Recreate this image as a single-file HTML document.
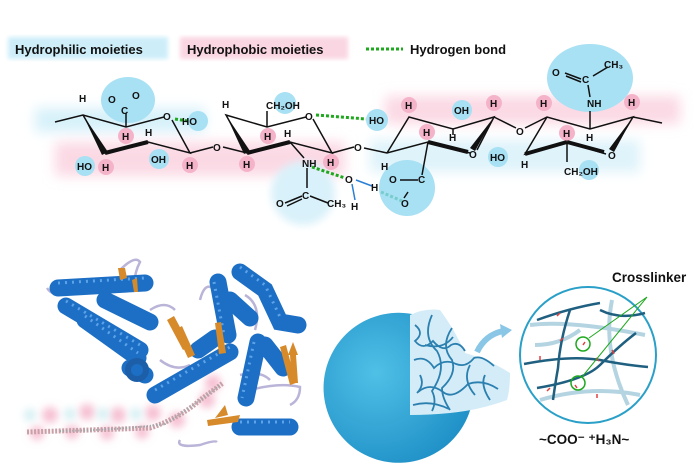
<!DOCTYPE html>
<html><head><meta charset="utf-8"><style>
html,body{margin:0;padding:0;background:#fff}
svg{display:block}
text{font-family:"Liberation Sans",sans-serif;font-weight:bold;fill:#111}
</style></head><body>
<svg width="699" height="474" viewBox="0 0 699 474" xmlns="http://www.w3.org/2000/svg">
<defs>
<filter id="b" x="-20%" y="-80%" width="140%" height="260%"><feGaussianBlur stdDeviation="6"/></filter>
<filter id="b2"><feGaussianBlur stdDeviation="2"/></filter>
<filter id="b3" x="-50%" y="-50%" width="200%" height="200%"><feGaussianBlur stdDeviation="4"/></filter>
<radialGradient id="sph" cx="35%" cy="40%" r="75%"><stop offset="0" stop-color="#4fc0e6"/><stop offset="1" stop-color="#1b8cc4"/></radialGradient>
</defs>
<!-- legend -->
<rect x="8" y="37" width="160" height="22" fill="#cdeef9" filter="url(#b2)"/>
<rect x="180" y="37" width="168" height="22" fill="#fad6e2" filter="url(#b2)"/>
<text x="15" y="54" font-size="13">Hydrophilic moieties</text>
<text x="187" y="54" font-size="13">Hydrophobic moieties</text>
<line x1="366" y1="49" x2="403" y2="49" stroke="#1ea81e" stroke-width="3" stroke-dasharray="3,2"/>
<text x="410" y="54" font-size="13">Hydrogen bond</text>
<!-- bands -->
<rect x="35" y="108" width="170" height="24" fill="#d7f1fa" filter="url(#b)"/>
<rect x="55" y="142" width="290" height="34" fill="#fbd9e4" filter="url(#b)"/>
<rect x="385" y="96" width="295" height="28" fill="#fbd9e4" filter="url(#b)"/>
<rect x="370" y="140" width="270" height="32" fill="#def3fa" filter="url(#b)"/>
<!-- blobs -->
<circle cx="303" cy="193" r="32" fill="#d9f1fa" filter="url(#b3)"/>
<g fill="#a8e0f4">
<ellipse cx="128" cy="100" rx="27" ry="23"/><circle cx="198" cy="121" r="10"/><circle cx="85" cy="166" r="10"/><circle cx="159" cy="159" r="10"/>
<circle cx="285" cy="103" r="11"/><circle cx="377" cy="120" r="11"/><circle cx="462" cy="110" r="10"/><circle cx="498" cy="157" r="10"/><circle cx="589" cy="170" r="10"/>
<circle cx="407" cy="188" r="28"/><ellipse cx="590" cy="78" rx="43" ry="34"/>
</g>
<g fill="#f5b3c9">
<circle cx="126" cy="136" r="8"/><circle cx="106" cy="167" r="8"/><circle cx="190" cy="165" r="8"/><circle cx="268" cy="136" r="8"/>
<circle cx="247" cy="164" r="8"/><circle cx="331" cy="162" r="8"/><circle cx="409" cy="105" r="8"/><circle cx="494" cy="103" r="8"/>
<circle cx="427" cy="132" r="8"/><circle cx="544" cy="103" r="8"/><circle cx="632" cy="102" r="8"/><circle cx="567" cy="133" r="8"/>
</g>
<!-- chain -->
<g stroke="#111" stroke-width="1.5" fill="none">
<path d="M55,122 L83,115 L126,127 L164,117 M172,120 L190,153 L148,142 L105,153 L83,115"/>
<path d="M190,153 L213,147 M223,147 L247,153 L290,142 L332,153 L313,119 M306,117 L267,127 L226,115 L247,153"/>
<path d="M332,153 L354,147 M364,148 L387,153 L428,142 L470,153 M477,150 L494,117 L453,129 L409,117 L387,153"/>
<path d="M494,117 L516,128 M525,128 L547,117 L590,129 L633,117 L613,150 M606,154 L567,142 L525,154 L547,117 M633,117 L662,123"/>
<path d="M126,127 L126,113 M267,127 L267,111 M590,129 L590,111 M590,97 L588,85 M428,142 L422,175 M290,142 L304,158 M307,168 L307,188 M567,142 L567,162 M453,129 L453,135"/>
<path d="M302,196 L285,203 M302,199 L287,206 M310,196 L328,203 M581,79 L565,73 M581,82 L566,76 M593,76 L608,67"/>
<path d="M400,180 L418,180 M408,192 L404,198" />
</g>
<g stroke="#111" stroke-width="4" fill="none"><path d="M105,153 L148,142 M247,153 L290,142 M428,142 L468,152 M567,142 L604,152 M525,154 L567,142"/></g>
<g fill="#111"><path d="M83,115 L108,152 L102,155 Z"/><path d="M226,115 L250,151 L244,154 Z"/><path d="M494,117 L475,151 L470,148 Z"/><path d="M633,117 L614,152 L609,149 Z"/></g>
<g stroke="#1ea81e" stroke-width="3" stroke-dasharray="3,2"><path d="M175,119 L188,121 M316,115 L366,119 M312,167 L345,178"/></g>
<path d="M381,192 L402,201" stroke="#7cc" stroke-width="3" stroke-dasharray="3,2"/>
<g stroke="#2a7fd6" stroke-width="1.5"><path d="M356,180 L372,186 M352,184 L355,200"/></g>
<g font-size="10">
<text x="79" y="102">H</text><text x="108" y="103">O</text><text x="132" y="99">O</text><text x="121" y="114">C</text>
<text x="163" y="120">O</text><text x="182" y="125">HO</text><text x="122" y="140">H</text><text x="145" y="136">H</text>
<text x="77" y="170">HO</text><text x="102" y="171">H</text><text x="151" y="163">OH</text><text x="186" y="169">H</text>
<text x="213" y="151">O</text><text x="222" y="108">H</text><text x="266" y="109">CH₂OH</text><text x="305" y="120">O</text>
<text x="264" y="140">H</text><text x="284" y="137">H</text><text x="243" y="168">H</text><text x="327" y="166">H</text>
<text x="302" y="167">NH</text><text x="302" y="199">C</text><text x="276" y="207">O</text><text x="327" y="207">CH₃</text>
<text x="354" y="151">O</text><text x="369" y="124">HO</text><text x="405" y="109">H</text>
<text x="454" y="114">OH</text><text x="490" y="107">H</text><text x="449" y="141">H</text><text x="423" y="136">H</text>
<text x="469" y="158">O</text><text x="381" y="170">H</text><text x="516" y="135">O</text><text x="540" y="107">H</text>
<text x="587" y="107">NH</text><text x="628" y="106">H</text><text x="563" y="137">H</text><text x="586" y="141">H</text>
<text x="608" y="159">O</text><text x="490" y="161">HO</text><text x="521" y="168">H</text><text x="564" y="175">CH₂OH</text>
<text x="552" y="76">O</text><text x="582" y="83">C</text><text x="604" y="68">CH₃</text>
<text x="389" y="183">O</text><text x="418" y="183">C</text><text x="401" y="207">O</text>
<text x="345" y="183" fill="#2a7fd6">O</text><text x="371" y="191" fill="#2a7fd6">H</text><text x="351" y="210" fill="#2a7fd6">H</text>
</g>
<!-- protein ligand -->
<g fill="#f6bfd2" filter="url(#b3)">
<circle cx="50" cy="415" r="8"/><circle cx="87" cy="412" r="8"/><circle cx="118" cy="415" r="8"/><circle cx="153" cy="413" r="8"/><circle cx="177" cy="420" r="8"/><circle cx="207" cy="400" r="8"/><circle cx="213" cy="383" r="8"/>
<circle cx="37" cy="433" r="7"/><circle cx="72" cy="432" r="7"/><circle cx="107" cy="433" r="7"/><circle cx="142" cy="432" r="7"/>
</g>
<g fill="#d3eef2" filter="url(#b3)"><circle cx="30" cy="415" r="6"/><circle cx="70" cy="414" r="6"/><circle cx="103" cy="414" r="6"/><circle cx="136" cy="414" r="6"/></g>
<path d="M27,432 Q90,430 150,428 Q180,418 200,400 L223,383" stroke="#c9a0a8" stroke-width="5" fill="none" stroke-dasharray="2,1.5"/>
<path d="M60,431 Q120,430 165,424 Q195,405 220,385" stroke="#9aa" stroke-width="2" fill="none" stroke-dasharray="1,2"/>
<!-- loops -->
<g stroke="#b9b4d8" stroke-width="2.5" fill="none">
<path d="M47,288 Q52,296 60,292 M120,270 Q135,255 140,262 Q133,275 135,290 M150,310 Q165,300 175,310 M180,440 Q175,448 200,445 Q215,440 217,442 M200,300 Q205,280 215,290 Q230,315 230,345 M245,295 Q262,305 255,330 M250,390 Q280,382 300,387 Q300,400 290,405 M240,375 Q260,370 270,380 M160,360 Q175,372 190,365"/>
</g>
<!-- helices -->
<g stroke="#1c6fc4" stroke-width="17" fill="none" stroke-linecap="round">
<path d="M58,288 L145,283"/><path d="M66,306 L140,350"/><path d="M85,320 L138,358"/><path d="M105,300 L150,322"/><path d="M130,368 L145,375"/>
<path d="M218,282 L228,335"/><path d="M240,272 L265,290 L280,322 L298,325"/><path d="M155,395 L230,352"/><path d="M258,342 L246,398"/>
<path d="M240,427 L290,427"/><path d="M198,350 L215,338"/><path d="M265,345 L283,368"/><path d="M230,300 L250,318"/>
</g>
<g stroke="#5da3ea" stroke-width="3" fill="none" stroke-dasharray="2,5">
<path d="M58,283 L145,278 M66,301 L140,345 M85,316 L138,353 M214,282 L224,335 M240,267 L265,285 L280,317 M155,390 L230,347 M254,342 L242,398 M240,422 L290,422"/>
</g>
<circle cx="137" cy="370" r="9" fill="none" stroke="#1c5fa8" stroke-width="6"/>
<g fill="#d68a2a"><path d="M167,320 L174,316 L190,346 L183,350 Z"/><path d="M175,330 L182,326 L195,355 L188,358 Z"/><path d="M215,323 L221,322 L226,353 L219,354 Z"/><path d="M280,347 L286,345 L296,383 L290,385 Z"/><path d="M288,355 L293,342 L298,355 Z M290,355 L296,355 L298,383 L292,383 Z"/><path d="M207,420 L240,415 L238,422 L208,426 Z"/><path d="M215,418 L225,405 L228,415 Z"/><path d="M118,268 L125,268 L127,278 L120,280 Z"/><path d="M132,280 L137,278 L138,292 L134,292 Z"/></g>
<!-- sphere -->
<path d="M465,353 A75,75 0 1 1 412,314 Z" fill="url(#sph)"/>
<path d="M410,315 Q425,308 440,310 Q455,330 465,353 Q490,360 510,373 Q510,390 507,400 Q480,410 450,413 Q430,415 410,415 Z" fill="#d4ecf7"/>
<g stroke="#2b80b0" stroke-width="1.8" fill="none">
<path d="M415,325 q10,8 0,16 q8,10 18,0 q10,12 18,4 q8,-4 14,6"/>
<path d="M414,360 q12,-5 20,8 q10,-10 22,-4 q10,4 18,-6 q8,-3 20,8"/>
<path d="M418,392 q12,-10 25,0 q10,8 25,-8 q15,-5 30,5"/>
<path d="M432,315 q-10,22 5,36 q10,18 -5,40 q5,10 0,20"/>
<path d="M452,328 q-12,18 0,32 q5,14 -10,28 q0,10 8,22"/>
<path d="M425,345 q18,5 28,-8 M413,405 q18,-5 36,4 M470,365 q-8,15 5,30 M485,375 q-5,10 5,25 M420,375 q5,10 -3,18"/>
</g>
<path d="M477,352 Q485,335 503,331" stroke="#8ac6e6" stroke-width="6" fill="none"/>
<path d="M500,324 L512,330 L502,338 Z" fill="#8ac6e6"/>
<circle cx="588" cy="355" r="68" fill="#fff" stroke="#2aa0c8" stroke-width="2"/>
<g stroke="#b5d4e2" stroke-width="4" fill="none">
<path d="M530,325 Q570,320 645,335 M540,400 Q590,385 640,395 M612,300 Q602,350 628,405 M535,345 Q560,345 580,330"/>
</g>
<g stroke="#1f5f80" stroke-width="2.5" fill="none">
<path d="M524,364 Q570,355 600,360 Q625,365 648,367 M537,388 Q585,380 600,365 Q620,345 636,333 M537,320 Q570,308 600,303 M570,310 Q560,340 558,368 Q555,385 553,400 M600,310 Q620,320 645,313"/>
</g>
<g stroke="#e04040" stroke-width="1.5"><path d="M557,316 l3,-3 M563,338 l-3,3 M540,360 l0,-4 M612,350 l2,4 M550,388 l-3,3 M596,358 l3,3 M597,394 l0,4 M583,345 l2,-3 M575,385 l2,3"/></g>
<circle cx="583" cy="344" r="7" fill="none" stroke="#1ea81e" stroke-width="1.5"/>
<circle cx="578" cy="383" r="7" fill="none" stroke="#1ea81e" stroke-width="1.5"/>
<path d="M589,338 L647,297 M582,377 L647,297" stroke="#1ea81e" stroke-width="1"/>
<text x="612" y="282" font-size="13.5">Crosslinker</text>
<text x="539" y="444" font-size="13.5">~COO⁻ ⁺H₃N~</text>
</svg>
</body></html>
